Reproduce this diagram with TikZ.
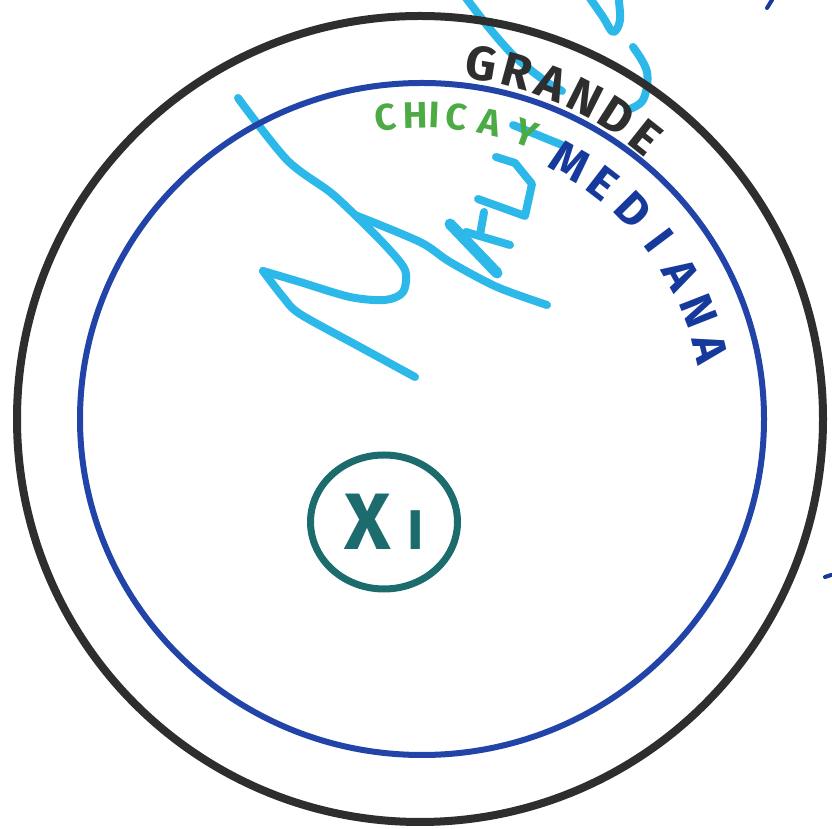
\documentclass[tikz,border=0pt]{standalone}
\usepackage{fontspec}
\setmainfont{Fira Sans}
\usetikzlibrary{shapes.geometric}
\definecolor{pen}{HTML}{2E2E2E}
\definecolor{ring}{HTML}{2244A8}
\definecolor{inkblue}{HTML}{16399C}
\definecolor{inkgreen}{HTML}{4CAB44}
\definecolor{sky}{HTML}{2DB8EA}
\definecolor{tealpen}{HTML}{1C6C6E}
\tikzset{
  lettering/.style={inner sep=0pt},
  sig/.style={sky, line width=8pt, line cap=round, line join=round},
}
\begin{document}
\begin{tikzpicture}[x=1pt, y=1pt]
\useasboundingbox (0,0) rectangle (832,829);
\coordinate (c) at (422,410);

% signature
\draw[sig] plot[smooth, tension=0.5] coordinates {(238,731) (287,669) (330,637) (355,614) (385,584) (405,559) (403,537) (385,529) (350,532) (300,547) (263,558)};
\draw[sig] plot[smooth, tension=0.5] coordinates {(263,558) (283,532) (300,515) (360,482) (415,452)};
\draw[sig] plot[smooth, tension=0.5] coordinates {(355,614) (420,587) (450,567) (497,542) (547,524)};
\draw[sig, line width=11pt] (450,605) -- (497,556);
\draw[sig] (484,617) -- (480,594);
\draw[sig] (466,597) -- (510,584);
\draw[sig] (478,630) -- (525,613) -- (532,645) -- (515,666) -- (496,672);
\draw[sig] (513,704) -- (562,684);
\draw[sig] plot[smooth, tension=0.5] coordinates {(463,835) (490,800) (515,772) (545,748) (562,738)};
\draw[sig] plot[smooth, tension=0.6] coordinates {(587,835) (603,812) (613,797) (620,809) (618,835)};
\draw[sig] plot[smooth, tension=0.6] coordinates {(633,782) (647,757) (643,729) (627,719)};

% rings
\draw[pen, line width=8pt] (420,410) circle[radius=403];
\draw[ring, line width=6pt] (c) ellipse[x radius=342, y radius=336];

% labels along the rings
\foreach \ang/\ltr [count=\i] in {80.5/G,74.7/R,68.9/A,63.1/N,57.3/D,51.5/E}
  \node[lettering, pen, font=\fontsize{48}{48}\bfseries\selectfont, rotate=\ang-90] (grande\i) at ([shift={(\ang:360)}]c) {\ltr};
\foreach \ang/\ltr [count=\i] in {96.9/C,91.2/H,87.6/I,83.4/C,77/A,70/Y}
  \node[lettering, inkgreen, font=\fontsize{37}{37}\bfseries\selectfont, rotate=\ang-90] (chica\i) at ([shift={(\ang:304)}]c) {\ltr};
\foreach \ang/\ltr [count=\i] in {60.1/M,52.4/E,44.6/D,36.9/I,29.2/A,21.4/N,13.7/A}
  \node[lettering, inkblue, font=\fontsize{46}{46}\bfseries\selectfont, rotate=\ang-90] (mediana\i) at ([shift={(\ang:297)}]c) {\ltr};

% marked size
\node[ellipse, draw=tealpen, line width=7pt, minimum width=147pt, minimum height=134pt, inner sep=0pt, text=tealpen] (xi) at (384,307)
  {{\fontsize{80}{80}\bfseries\selectfont X}\hspace{16pt}{\fontsize{56}{56}\bfseries\selectfont I}};

% stray marks
\draw[inkblue, line width=4pt, line cap=round] (772,829) -- (767,821);
\draw[inkblue, line width=4pt, line cap=round] (825,252) -- (831,254);
\end{tikzpicture}
\end{document}
